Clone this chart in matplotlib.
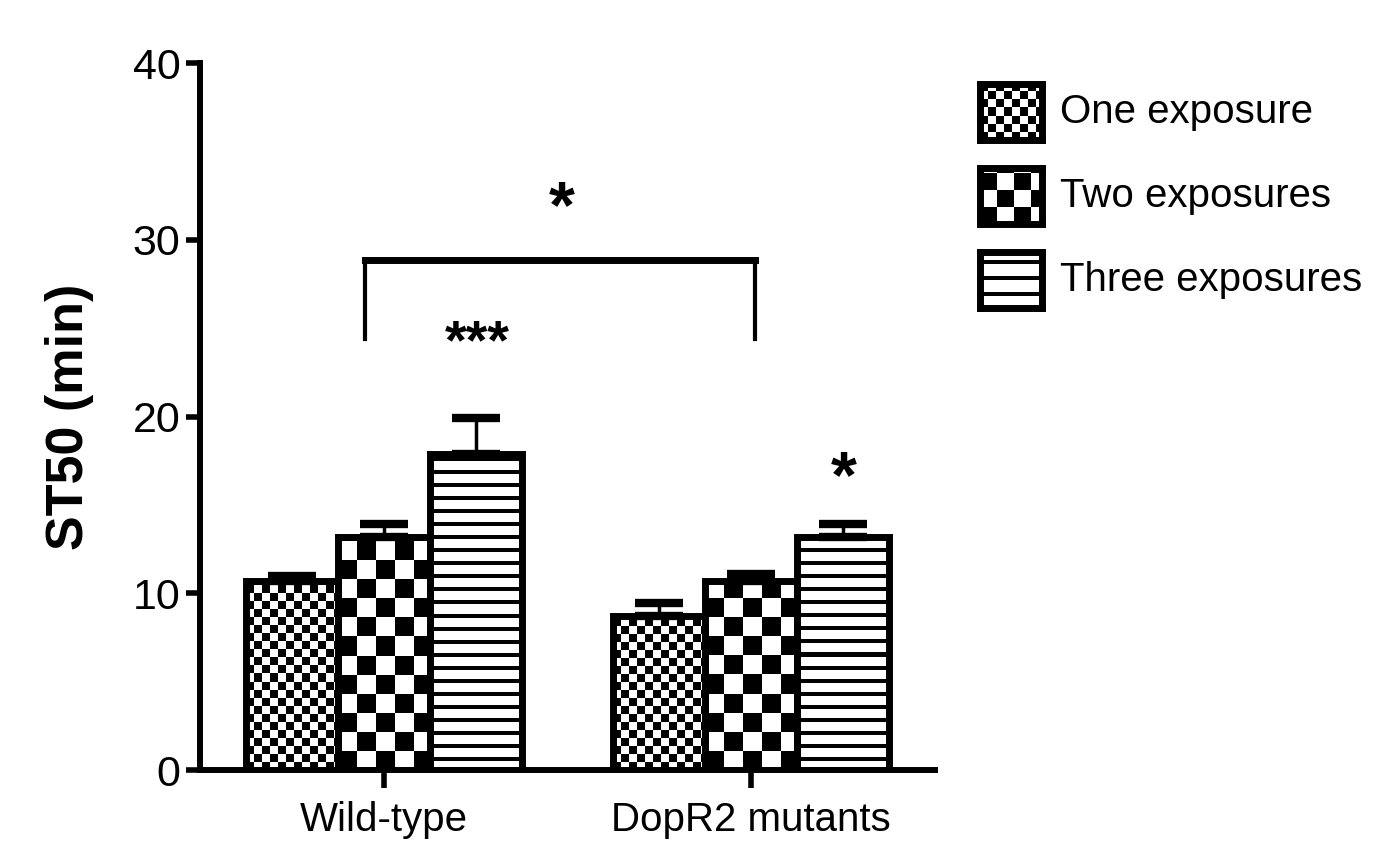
import numpy as np
import matplotlib
matplotlib.use("Agg")
import matplotlib.pyplot as plt

# ---- dados ----
grupos = ["Wild-type", "DopR2 mutants"]
series = ["One exposure", "Two exposures", "Three exposures"]
medias = {
    "One exposure": [10.7, 8.7],
    "Two exposures": [13.2, 10.7],
    "Three exposures": [17.9, 13.2],
}
erros = {
    "One exposure": [0.3, 0.75],
    "Two exposures": [0.7, 0.4],
    "Three exposures": [2.0, 0.7],
}
yticks = [0, 10, 20, 30, 40]

# padrao de cada serie: (tipo, tamanho da celula em px)
padroes = {
    "One exposure": ("checker", 8),
    "Two exposures": ("checker", 19),
    "Three exposures": ("stripes", 13),
}

FONTE = ["Liberation Sans", "DejaVu Sans"]
plt.rcParams["font.family"] = FONTE


def padrao(tipo, cel, w_px, h_px):
    w_px = max(int(round(w_px)), 1)
    h_px = max(int(round(h_px)), 1)
    yy, xx = np.indices((h_px, w_px))
    if tipo == "checker":
        arr = ((yy // cel) + (xx // cel)) % 2
    else:
        arr = ((yy % cel) < cel - 4).astype(int)
    return arr.astype(float)


fig = plt.figure(figsize=(13.77, 8.49), dpi=100)
ax = fig.add_axes([0.1452, 0.0930, 0.5338, 0.8327])
ax.set_xlim(-0.5, 1.5)
ax.set_ylim(0, 40)

x = np.arange(len(grupos))
w = 0.25
px_x = ax.transData.transform((1, 0))[0] - ax.transData.transform((0, 0))[0]
px_y = ax.transData.transform((0, 1))[1] - ax.transData.transform((0, 0))[1]

for i, s in enumerate(series):
    pos = x + (i - 1) * w
    barras = ax.bar(pos, medias[s], w, color="white", edgecolor="none", zorder=1)
    tipo, cel = padroes[s]
    for b in barras:
        x0 = b.get_x()
        h = b.get_height()
        arr = padrao(tipo, cel, w * px_x, h * px_y)
        ax.imshow(arr, cmap="gray", vmin=0, vmax=1, origin="lower",
                  extent=(x0, x0 + w, 0, h), interpolation="nearest",
                  aspect="auto", zorder=2)
    ax.errorbar(pos, medias[s], yerr=[np.zeros(len(grupos)), erros[s]],
                fmt="none", ecolor="black", elinewidth=2.5, capsize=17,
                capthick=6, zorder=3)
    ax.bar(pos, medias[s], w, fill=False, edgecolor="black", linewidth=5, zorder=4)

ax.set_xlim(-0.5, 1.5)
ax.set_ylim(0, 40)

# eixos
for lado in ["top", "right"]:
    ax.spines[lado].set_visible(False)
ax.spines["left"].set_linewidth(4.3)
ax.spines["bottom"].set_linewidth(4.3)
ax.set_yticks(yticks)
ax.set_yticklabels([str(v) for v in yticks], fontsize=31)
ax.set_xticks(x)
ax.set_xticklabels(grupos, fontsize=29)
ax.tick_params(axis="y", length=10, width=4, pad=4)
ax.tick_params(axis="x", length=13, width=4, pad=9)
ax.set_ylabel("ST50 (min)", fontsize=37.5, fontweight="bold", labelpad=28)

# significancia
ax.plot([-0.05, -0.05, 1.01, 1.01], [24.4, 28.85, 28.85, 24.4],
        color="black", linewidth=3, zorder=5)
ax.plot([-0.05, 1.01], [28.85, 28.85], color="black", linewidth=5, zorder=5)
ax.text(0.484, 31.7, "*", fontsize=48, fontweight="bold", ha="center", va="center")
ax.text(0.255, 24.1, "***", fontsize=40, fontweight="bold", ha="center", va="center")
ax.text(1.253, 16.4, "*", fontsize=48, fontweight="bold", ha="center", va="center")

# legenda manual
W, H = 1377.0, 849.0
centros = [112, 196, 280]
for s, cy in zip(series, centros):
    lax = fig.add_axes([980 / W, (H - cy - 28) / H, 62 / W, 56 / H])
    tipo, cel = padroes[s]
    if tipo == "checker":
        arr = padrao(tipo, min(cel, 17), 62, 56)
    else:
        arr = padrao(tipo, 16, 62, 56)
    lax.imshow(arr, cmap="gray", vmin=0, vmax=1, origin="lower",
               interpolation="nearest", aspect="auto")
    lax.set_xticks([])
    lax.set_yticks([])
    for sp in lax.spines.values():
        sp.set_linewidth(5)
    fig.text(1060 / W, (H - cy) / H, s, fontsize=29, ha="left", va="center")

fig.savefig("out.png", dpi=100)
